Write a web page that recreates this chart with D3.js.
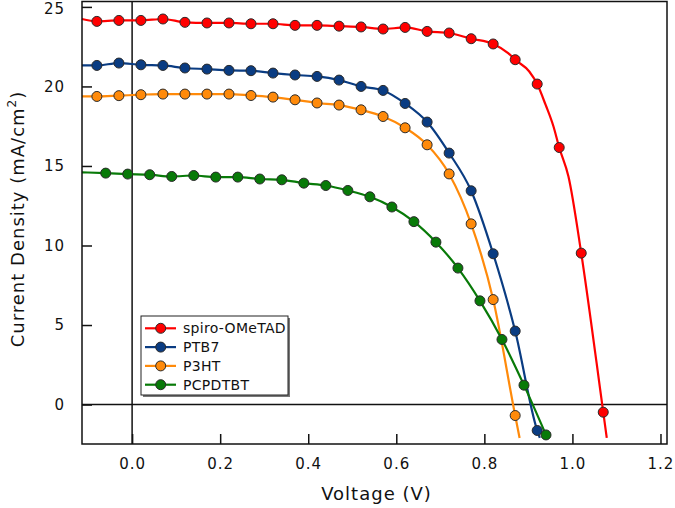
<!DOCTYPE html>
<html>
<head>
<meta charset="utf-8">
<script src="https://cdn.jsdelivr.net/npm/d3@7"></script>
<style>
  html, body { margin: 0; padding: 0; background: #fff; }
  svg { display: block; font-family: "DejaVu Sans", Verdana, sans-serif; }
</style>
</head>
<body>
<svg id="chart" width="675" height="508"></svg>
<script>
// ---------- data ----------
const seriesNames = ["spiro-OMeTAD", "PTB7", "P3HT", "PCPDTBT"];
const seriesColors = ["#ff0000", "#0a3c82", "#ff8a0a", "#087a08"];

// marker points
const spiroV = [-0.08, -0.03, 0.02, 0.07, 0.12, 0.17, 0.22, 0.27, 0.32, 0.37, 0.42, 0.47, 0.52, 0.57, 0.62, 0.67, 0.72, 0.77, 0.82, 0.87, 0.92, 0.97, 1.02, 1.07];
const spiroJ = [24.09, 24.15, 24.15, 24.24, 24.03, 23.99, 23.99, 23.94, 23.94, 23.84, 23.84, 23.79, 23.74, 23.61, 23.71, 23.46, 23.36, 23.00, 22.67, 21.68, 20.15, 16.16, 9.52, -0.48];

const ptb7V = [-0.08, -0.03, 0.02, 0.07, 0.12, 0.17, 0.22, 0.27, 0.32, 0.37, 0.42, 0.47, 0.52, 0.57, 0.62, 0.67, 0.72, 0.77, 0.82, 0.87, 0.92];
const ptb7J = [21.32, 21.47, 21.36, 21.32, 21.16, 21.09, 21.01, 20.99, 20.84, 20.72, 20.63, 20.40, 20.00, 19.75, 18.93, 17.76, 15.81, 13.44, 9.48, 4.62, -1.63];

const p3htV = [-0.08, -0.03, 0.02, 0.07, 0.12, 0.17, 0.22, 0.27, 0.32, 0.37, 0.42, 0.47, 0.52, 0.57, 0.62, 0.67, 0.72, 0.77, 0.82, 0.87];
const p3htJ = [19.37, 19.42, 19.48, 19.52, 19.52, 19.52, 19.52, 19.43, 19.33, 19.16, 18.96, 18.83, 18.53, 18.11, 17.40, 16.33, 14.50, 11.36, 6.60, -0.69];

const pcpdtbtV = [-0.06, -0.01, 0.04, 0.09, 0.14, 0.19, 0.24, 0.29, 0.34, 0.39, 0.44, 0.49, 0.54, 0.59, 0.64, 0.69, 0.74, 0.79, 0.84, 0.89, 0.94];
const pcpdtbtJ = [14.55, 14.49, 14.45, 14.34, 14.40, 14.30, 14.30, 14.18, 14.13, 13.92, 13.77, 13.46, 13.06, 12.42, 11.50, 10.21, 8.58, 6.52, 4.09, 1.22, -1.91];

// extra points of the measured traces (beyond / between the markers)
const spiroLineV = [-0.114, 0.854, 0.902, 0.939, 0.957, 0.991, 1.055, 1.078];
const spiroLineJ = [24.24, 22.10, 20.94, 18.85, 17.48, 14.34, 2.60, -2.10];
const ptb7LineV = [-0.114, 0.926];
const ptb7LineJ = [21.32, -2.10];
const p3htLineV = [-0.114, 0.880];
const p3htLineJ = [19.37, -2.10];
const pcpdtbtLineV = [-0.114];
const pcpdtbtLineJ = [14.60];

const xTicks = [0.0, 0.2, 0.4, 0.6, 0.8, 1.0, 1.2];
const yTicks = [0, 5, 10, 15, 20, 25];

// ---------- build ----------
function pts(v, j) { return v.map((d, i) => ({ v: d, j: j[i] })); }
const series = [
  { name: seriesNames[0], color: seriesColors[0], markers: pts(spiroV, spiroJ), extra: pts(spiroLineV, spiroLineJ) },
  { name: seriesNames[1], color: seriesColors[1], markers: pts(ptb7V, ptb7J), extra: pts(ptb7LineV, ptb7LineJ) },
  { name: seriesNames[2], color: seriesColors[2], markers: pts(p3htV, p3htJ), extra: pts(p3htLineV, p3htLineJ) },
  { name: seriesNames[3], color: seriesColors[3], markers: pts(pcpdtbtV, pcpdtbtJ), extra: pts(pcpdtbtLineV, pcpdtbtLineJ) }
];
series.forEach(s => { s.line = s.markers.concat(s.extra).sort((a, b) => a.v - b.v); });

const svg = d3.select("#chart");
const L = 82, R = 667, T = 1.5, B = 444;
const x = d3.scaleLinear().domain([-0.1138, 1.2148]).range([L, R]);
const y = d3.scaleLinear().domain([-2.48, 25.34]).range([B, T]);

// zero lines
svg.append("line").attr("x1", x(0)).attr("x2", x(0)).attr("y1", T).attr("y2", B)
  .attr("stroke", "#111").attr("stroke-width", 1.5);
svg.append("line").attr("x1", L).attr("x2", R).attr("y1", y(0)).attr("y2", y(0))
  .attr("stroke", "#111").attr("stroke-width", 1.5);

// traces
const lineGen = d3.line().x(d => x(d.v)).y(d => y(d.j)).curve(d3.curveMonotoneX);
const gData = svg.append("g");
series.forEach(s => {
  gData.append("path").datum(s.line).attr("d", lineGen)
    .attr("fill", "none").attr("stroke", s.color).attr("stroke-width", 2.2)
    .attr("stroke-linejoin", "round");
});
series.forEach(s => {
  gData.selectAll(null).data(s.markers).enter().append("circle")
    .attr("cx", d => x(d.v)).attr("cy", d => y(d.j)).attr("r", 5)
    .attr("fill", s.color).attr("stroke", "#2a2a2a").attr("stroke-width", 1);
});

// frame
svg.append("rect").attr("x", L).attr("y", T).attr("width", R - L).attr("height", B - T)
  .attr("fill", "none").attr("stroke", "#111").attr("stroke-width", 1.5);

// axes (ticks inside)
const xAxis = d3.axisBottom(x).tickValues(xTicks).tickFormat(d3.format(".1f")).tickSizeInner(-10).tickSizeOuter(0).tickPadding(14);
const gx = svg.append("g").attr("transform", `translate(0,${B})`).call(xAxis);
const yAxis = d3.axisLeft(y).tickValues(yTicks).tickFormat(d3.format("d")).tickSizeInner(-10).tickSizeOuter(0).tickPadding(17);
const gy = svg.append("g").attr("transform", `translate(${L},0)`).call(yAxis);
[gx, gy].forEach(g => {
  g.select(".domain").remove();
  g.selectAll(".tick line").attr("stroke", "#111").attr("stroke-width", 1.5);
  g.selectAll(".tick text").attr("fill", "#111").style("font-size", "15px")
    .style("letter-spacing", "1px").style("font-family", "DejaVu Sans, sans-serif");
});
gy.selectAll(".tick text").filter(d => d === 25).attr("dy", "0.42em");

// axis titles
svg.append("text").attr("x", (L + R) / 2 + 2).attr("y", 500).attr("text-anchor", "middle")
  .style("font-size", "18px").style("letter-spacing", "1px").attr("fill", "#111")
  .text("Voltage (V)");
const yl = svg.append("text").attr("transform", `translate(24,${219}) rotate(-90)`)
  .attr("text-anchor", "middle").style("font-size", "18px").style("letter-spacing", "1px").attr("fill", "#111");
yl.append("tspan").text("Current Density (mA/cm");
yl.append("tspan").attr("dy", -8).style("font-size", "12px").text("2");
yl.append("tspan").attr("dy", 8).text(")");

// legend
const lg = svg.append("g");
const lx = 141, ly = 316, lw = 147, lh = 79;
lg.append("rect").attr("x", lx + 2).attr("y", ly + 2).attr("width", lw).attr("height", lh).attr("fill", "#777");
lg.append("rect").attr("x", lx).attr("y", ly).attr("width", lw).attr("height", lh)
  .attr("fill", "#fff").attr("stroke", "#222").attr("stroke-width", 1);
series.forEach((s, i) => {
  const yy = ly + 12.3 + i * 18.8;
  lg.append("line").attr("x1", lx + 4).attr("x2", lx + 35).attr("y1", yy).attr("y2", yy)
    .attr("stroke", s.color).attr("stroke-width", 2.2);
  lg.append("circle").attr("cx", lx + 19.7).attr("cy", yy).attr("r", 5)
    .attr("fill", s.color).attr("stroke", "#2a2a2a").attr("stroke-width", 1);
  lg.append("text").attr("x", lx + 42).attr("y", yy).attr("dy", "0.36em")
    .style("font-size", "14px").style("letter-spacing", "0.3px").attr("fill", "#111").text(s.name);
});
</script>
</body>
</html>
